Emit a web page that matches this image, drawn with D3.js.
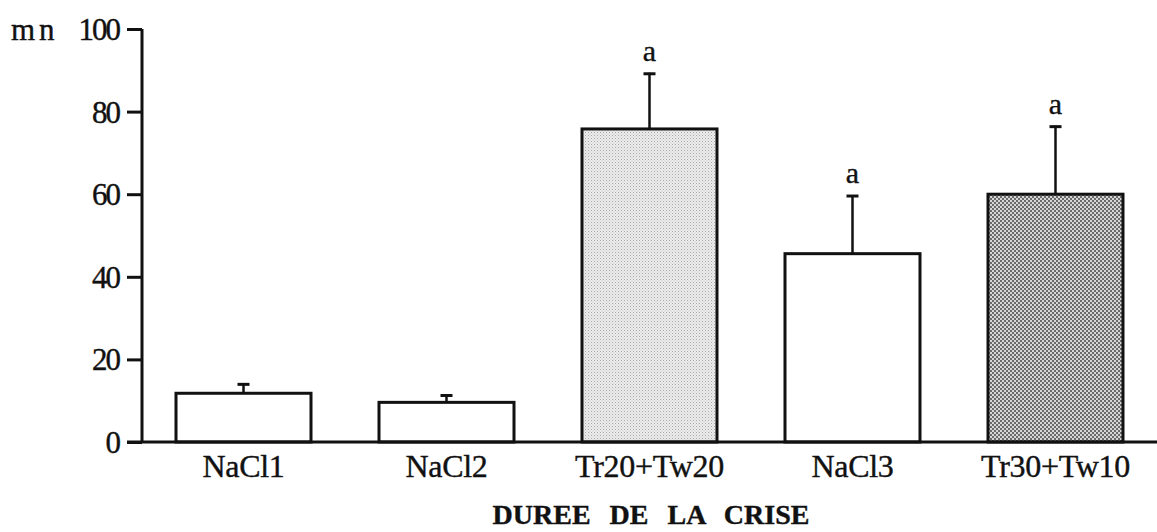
<!DOCTYPE html>
<html>
<head>
<meta charset="utf-8">
<script src="https://cdn.jsdelivr.net/npm/d3@7"></script>
<style>
  html, body { margin: 0; padding: 0; background: #fff; }
  svg { display: block; }
  text { font-family: "Liberation Serif", "DejaVu Serif", serif; fill: #111; stroke: #111; stroke-width: 0.4px; }
</style>
</head>
<body>
<svg id="chart" width="1157" height="532"></svg>
<script>
// Treatments along the x axis
const categories = ["NaCl1", "NaCl2", "Tr20+Tw20", "NaCl3", "Tr30+Tw10"];
// Mean duration (mn) and standard error for each treatment
const means = [11.8, 9.6, 75.8, 45.6, 60.0];
const errors = [2.4, 1.9, 13.6, 14.2, 16.6];
// Significance letters above the error bars
const letters = ["", "", "a", "a", "a"];
// Fill style per bar: plain, light stipple, dark stipple
const fills = ["plain", "plain", "light", "plain", "dark"];
const yTicks = [0, 20, 40, 60, 80, 100];

const svg = d3.select("#chart");
const W = 1157, H = 532;

// Stipple patterns for the shaded bars
const defs = svg.append("defs");
const light = defs.append("pattern").attr("id", "stipple-light")
  .attr("patternUnits", "userSpaceOnUse").attr("width", 3).attr("height", 3);
light.append("rect").attr("width", 3).attr("height", 3).attr("fill", "#ececec");
light.append("rect").attr("x", 0).attr("y", 0).attr("width", 1).attr("height", 1).attr("fill", "#a8a8a8");
light.append("rect").attr("x", 1.5).attr("y", 1.5).attr("width", 1).attr("height", 1).attr("fill", "#c4c4c4");

const dark = defs.append("pattern").attr("id", "stipple-dark")
  .attr("patternUnits", "userSpaceOnUse").attr("width", 4).attr("height", 4);
dark.append("rect").attr("width", 4).attr("height", 4).attr("fill", "#d6d6d6");
dark.append("rect").attr("x", 0).attr("y", 0).attr("width", 2).attr("height", 2).attr("fill", "#6a6a6a");
dark.append("rect").attr("x", 2).attr("y", 2).attr("width", 2).attr("height", 2).attr("fill", "#6a6a6a");

const fillFor = f => f === "light" ? "url(#stipple-light)" : f === "dark" ? "url(#stipple-dark)" : "#fff";

const axisX = 142, baseY = 442, topY = 29;

const y = d3.scaleLinear().domain([0, 100]).range([baseY, topY]);
const x = d3.scaleBand().domain(categories).range([axisX, W]).paddingInner(0).paddingOuter(0);
const barW = x.bandwidth() * 0.665;

// Bars
const bars = svg.append("g");
categories.forEach((c, i) => {
  const cx = x(c) + x.bandwidth() / 2;
  bars.append("rect")
    .attr("x", cx - barW / 2)
    .attr("y", y(means[i]))
    .attr("width", barW)
    .attr("height", y(0) - y(means[i]))
    .attr("fill", fillFor(fills[i]))
    .attr("stroke", "#111")
    .attr("stroke-width", 3);

  // Upper error bar with cap
  const top = y(means[i] + errors[i]);
  bars.append("line")
    .attr("x1", cx).attr("x2", cx)
    .attr("y1", y(means[i])).attr("y2", top)
    .attr("stroke", "#111").attr("stroke-width", 2.5);
  bars.append("line")
    .attr("x1", cx - 6).attr("x2", cx + 6)
    .attr("y1", top + 1).attr("y2", top + 1)
    .attr("stroke", "#111").attr("stroke-width", 3);

  if (letters[i]) {
    bars.append("text")
      .attr("x", cx).attr("y", top - 12)
      .attr("text-anchor", "middle")
      .attr("font-size", 30)
      .text(letters[i]);
  }
});

// Y axis
const yAxis = d3.axisLeft(y).tickValues(yTicks).tickSize(15).tickPadding(8).tickFormat(d3.format("d"));
const gy = svg.append("g").attr("transform", `translate(${axisX},0)`).call(yAxis);
gy.select(".domain").attr("d", `M0,${topY}V${baseY}`).attr("stroke", "#111").attr("stroke-width", 3);
gy.selectAll(".tick line").attr("stroke", "#111").attr("stroke-width", 3);
gy.selectAll(".tick text").attr("font-size", 31).attr("letter-spacing", -2)
  .attr("font-family", "Liberation Serif, serif").attr("fill", "#111").attr("dy", "0.34em");

// Unit label
svg.append("text").attr("x", 11).attr("y", topY + 11)
  .attr("font-size", 31).attr("letter-spacing", 4).text("mn");

// X axis baseline
const xAxis = d3.axisBottom(x).tickSize(0).tickPadding(12);
const gx = svg.append("g").attr("transform", `translate(0,${baseY})`).call(xAxis);
gx.select(".domain").attr("d", `M${axisX - 15},0H${W}`).attr("stroke", "#111").attr("stroke-width", 3);
gx.selectAll(".tick text").attr("font-size", 32).attr("letter-spacing", -0.3)
  .attr("font-family", "Liberation Serif, serif").attr("fill", "#111");

// Axis title
svg.append("text")
  .attr("x", 651).attr("y", 524)
  .attr("text-anchor", "middle")
  .attr("font-size", 28)
  .attr("font-weight", "bold")
  .attr("word-spacing", 12)
  .text("DUREE DE LA CRISE");
</script>
</body>
</html>
